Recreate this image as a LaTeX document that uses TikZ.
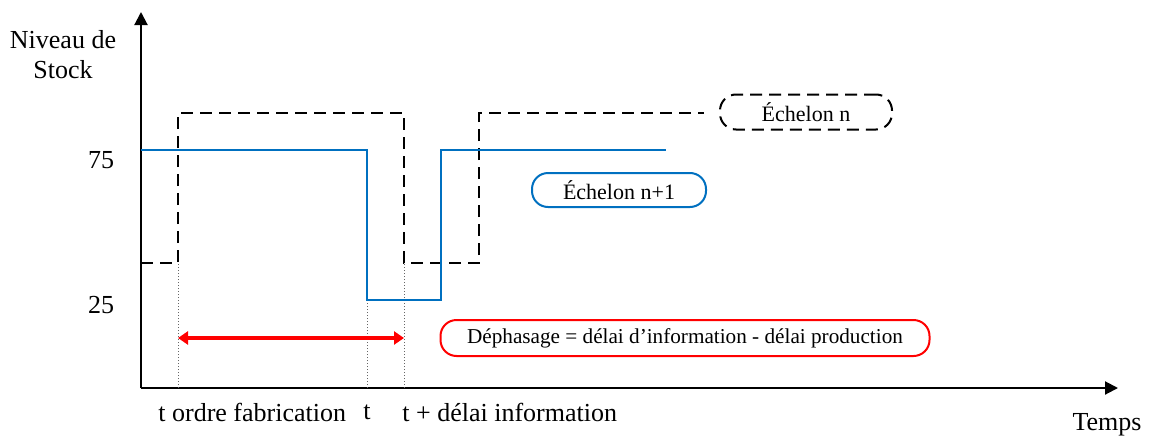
\documentclass[tikz,border=0pt]{standalone}
\usepackage{fontspec}
\setmainfont{Liberation Serif}
\usetikzlibrary{arrows.meta}
\definecolor{stockblue}{RGB}{0,112,192}
\definecolor{phasered}{RGB}{255,0,0}
\tikzset{x=0.5pt, y=-0.5pt,
  axis/.style={draw=black, line width=1pt, -{Triangle[length=6.5pt,width=6.5pt]}},
  big label/.style={font=\fontsize{13}{15}\selectfont, inner sep=0pt},
  step n/.style={draw=black, line width=1pt, dash pattern=on 6pt off 3.5pt},
  step n1/.style={draw=stockblue, line width=1pt},
  guide/.style={draw=black!60, densely dotted, line width=0.5pt},
  phase/.style={draw=phasered, line width=1.6pt, {Triangle[length=5pt,width=6.5pt]}-{Triangle[length=5pt,width=6.5pt]}},
  echelon/.style={rounded corners=8pt, line width=1pt, minimum height=17.5pt,
    font=\fontsize{11}{13}\selectfont, inner sep=0pt}
}
\begin{document}
\begin{tikzpicture}
\useasboundingbox (0,0) rectangle (1150,439);
% axes
\coordinate (O) at (141,388);
\coordinate (ytop) at (141,12);
\coordinate (xend) at (1118,388);
\draw[axis] (O) -- (ytop);
\draw[axis] (O) -- (xend);
\node[big label, align=center] (ylab) at (63,55) {Niveau de\\Stock};
\node[big label] (xlab) at (1107,425) {Temps};
\node[big label] (v75) at (101,160) {75};
\node[big label] (v25) at (101,305) {25};
% time marks
\coordinate (tf) at (178,388);
\coordinate (tp) at (367,388);
\coordinate (ti) at (404,388);
\node[big label, anchor=west] (tfab) at (158,412) {t ordre fabrication};
\node[big label] (tprod) at (367,412) {t};
\node[big label, anchor=west] (tinfo) at (402,412) {t + délai information};
\draw[guide] (tf) -- (178,263);
\draw[guide] (tp) -- (367,300);
\draw[guide] (ti) -- (404,263);
% echelon n (dashed)
\draw[step n] (141,263) -- (178,263) -- (178,113) -- (404,113) -- (404,263)
  -- (479,263) -- (479,113) -- (704,113);
% echelon n+1
\draw[step n1] (141,150) -- (367,150) -- (367,300) -- (441,300) -- (441,150) -- (666,150);
% legends
\node[echelon, draw=black, dash pattern=on 6pt off 3.5pt, minimum width=86pt] (boxn) at (806,112) {Échelon n};
\node[echelon, draw=stockblue, minimum width=87pt, minimum height=17pt] (boxn1) at (619,190) {Échelon n+1};
\node[echelon, draw=phasered, minimum width=244.5pt, minimum height=18pt,
  font=\fontsize{10.6}{13}\selectfont] (dephase) at (685,338) {Déphasage = délai d’information - délai production};
% dephasage
\draw[phase] (tf |- dephase.west) -- (ti |- dephase.west);
\end{tikzpicture}
\end{document}
